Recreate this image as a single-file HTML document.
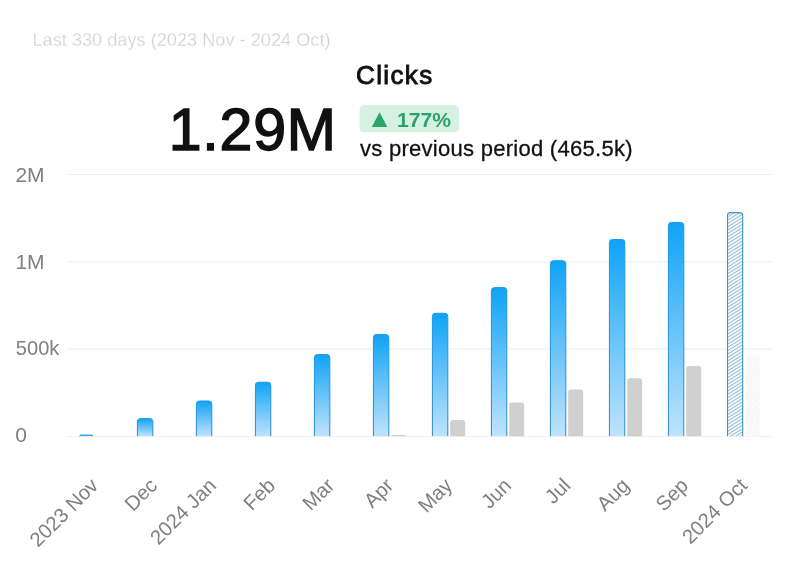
<!DOCTYPE html>
<html><head><meta charset="utf-8"><title>Clicks</title>
<style>
html,body{margin:0;padding:0;background:#fff;}
body{width:800px;height:583px;overflow:hidden;font-family:"Liberation Sans",sans-serif;}
svg{display:block}
text{font-family:"Liberation Sans",sans-serif;}
.xl{font-size:20.3px;fill:#808080;}
.yl{font-size:21px;fill:#808080;}
</style></head><body>
<svg width="800" height="583" viewBox="0 0 800 583">
<defs>
<linearGradient id="bg" x1="0" y1="0" x2="0" y2="1">
<stop offset="0" stop-color="#0fa3f6"/><stop offset="1" stop-color="#bfe3fd"/></linearGradient>
<linearGradient id="bs" x1="0" y1="0" x2="0" y2="1">
<stop offset="0" stop-color="#1b98ea"/><stop offset="1" stop-color="#2f89c3"/></linearGradient>
</defs>
<rect width="800" height="583" fill="#fff"/>
<text x="32.5" y="46" font-size="18.6" fill="#d0d0d0" stroke="#fff" stroke-width="0.3" textLength="298" lengthAdjust="spacingAndGlyphs">Last 330 days (2023 Nov - 2024 Oct)</text>
<text x="356" y="83.6" font-size="26" fill="#111" stroke="#111" stroke-width="0.9" textLength="76.2" lengthAdjust="spacing">Clicks</text>
<text x="168.7" y="150.3" font-size="59" fill="#111" stroke="#111" stroke-width="1.5" textLength="167.3" lengthAdjust="spacing">1.29M</text>
<rect x="359.6" y="105.2" width="99.4" height="27" rx="4.5" fill="#d6f0e2"/>
<text transform="translate(366.6,126.6) scale(1.2,1.15)" font-size="22" fill="#2aa469">▲</text>
<text x="397" y="126.5" font-size="20.5" font-weight="bold" fill="#2aa469" textLength="54" lengthAdjust="spacingAndGlyphs">177%</text>
<text x="360" y="156.4" font-size="22" fill="#111" stroke="#111" stroke-width="0.3" textLength="272.5" lengthAdjust="spacing">vs previous period (465.5k)</text>
<g stroke="#eeeeee" stroke-width="1">
<line x1="67" x2="772" y1="174.5" y2="174.5"/>
<line x1="67" x2="772" y1="261.95" y2="261.95"/>
<line x1="67" x2="772" y1="349.17" y2="349.17"/>
<line x1="67" x2="772" y1="436.6" y2="436.6" stroke="#f1f1f1"/>
</g>
<text class="yl" x="15.4" y="182">2M</text>
<text class="yl" x="15.4" y="269">1M</text>
<text class="yl" x="15.8" y="355.4" textLength="43.6" lengthAdjust="spacingAndGlyphs">500k</text>
<text class="yl" x="15.2" y="442.2">0</text>
<path d="M79.70,436.2V436.20Q79.70,435.10 80.80,435.10H91.60Q92.70,435.10 92.70,436.20V436.2" fill="url(#bg)" stroke="url(#bs)" stroke-width="1"/>
<text class="xl" text-anchor="end" transform="translate(99.4,486.7) rotate(-45)">2023 Nov</text>
<path d="M137.40,436.2V421.60Q137.40,418.60 140.40,418.60H149.80Q152.80,418.60 152.80,421.60V436.2" fill="url(#bg)" stroke="url(#bs)" stroke-width="1"/>
<text class="xl" text-anchor="end" transform="translate(158.4,486.7) rotate(-45)">Dec</text>
<path d="M196.40,436.2V404.00Q196.40,401.00 199.40,401.00H208.80Q211.80,401.00 211.80,404.00V436.2" fill="url(#bg)" stroke="url(#bs)" stroke-width="1"/>
<text class="xl" text-anchor="end" transform="translate(217.4,486.7) rotate(-45)">2024 Jan</text>
<path d="M255.40,436.2V385.25Q255.40,382.25 258.40,382.25H267.80Q270.80,382.25 270.80,385.25V436.2" fill="url(#bg)" stroke="url(#bs)" stroke-width="1"/>
<text class="xl" text-anchor="end" transform="translate(276.5,486.7) rotate(-45)">Feb</text>
<path d="M314.40,436.2V357.50Q314.40,354.50 317.40,354.50H326.80Q329.80,354.50 329.80,357.50V436.2" fill="url(#bg)" stroke="url(#bs)" stroke-width="1"/>
<text class="xl" text-anchor="end" transform="translate(335.5,486.7) rotate(-45)">Mar</text>
<path d="M373.40,436.2V337.50Q373.40,334.50 376.40,334.50H385.80Q388.80,334.50 388.80,337.50V436.2" fill="url(#bg)" stroke="url(#bs)" stroke-width="1"/>
<path d="M391.20,436.2V436.20Q391.20,435.00 392.40,435.00H405.00Q406.20,435.00 406.20,436.20V436.2" fill="#d0d0d0"/>
<text class="xl" text-anchor="end" transform="translate(394.5,486.7) rotate(-45)">Apr</text>
<path d="M432.40,436.2V316.25Q432.40,313.25 435.40,313.25H444.80Q447.80,313.25 447.80,316.25V436.2" fill="url(#bg)" stroke="url(#bs)" stroke-width="1"/>
<path d="M450.20,436.2V422.50Q450.20,420.00 452.70,420.00H462.70Q465.20,420.00 465.20,422.50V436.2" fill="#d0d0d0"/>
<text class="xl" text-anchor="end" transform="translate(453.5,486.7) rotate(-45)">May</text>
<path d="M491.40,436.2V290.60Q491.40,287.60 494.40,287.60H503.80Q506.80,287.60 506.80,290.60V436.2" fill="url(#bg)" stroke="url(#bs)" stroke-width="1"/>
<path d="M509.20,436.2V404.90Q509.20,402.40 511.70,402.40H521.70Q524.20,402.40 524.20,404.90V436.2" fill="#d0d0d0"/>
<text class="xl" text-anchor="end" transform="translate(512.5,486.7) rotate(-45)">Jun</text>
<path d="M550.40,436.2V263.70Q550.40,260.70 553.40,260.70H562.80Q565.80,260.70 565.80,263.70V436.2" fill="url(#bg)" stroke="url(#bs)" stroke-width="1"/>
<path d="M568.20,436.2V392.10Q568.20,389.60 570.70,389.60H580.70Q583.20,389.60 583.20,392.10V436.2" fill="#d0d0d0"/>
<text class="xl" text-anchor="end" transform="translate(571.6,486.7) rotate(-45)">Jul</text>
<path d="M609.40,436.2V242.50Q609.40,239.50 612.40,239.50H621.80Q624.80,239.50 624.80,242.50V436.2" fill="url(#bg)" stroke="url(#bs)" stroke-width="1"/>
<path d="M627.20,436.2V380.80Q627.20,378.30 629.70,378.30H639.70Q642.20,378.30 642.20,380.80V436.2" fill="#d0d0d0"/>
<text class="xl" text-anchor="end" transform="translate(630.6,486.7) rotate(-45)">Aug</text>
<path d="M668.40,436.2V225.50Q668.40,222.50 671.40,222.50H680.80Q683.80,222.50 683.80,225.50V436.2" fill="url(#bg)" stroke="url(#bs)" stroke-width="1"/>
<path d="M686.20,436.2V368.60Q686.20,366.10 688.70,366.10H698.70Q701.20,366.10 701.20,368.60V436.2" fill="#d0d0d0"/>
<text class="xl" text-anchor="end" transform="translate(689.6,486.7) rotate(-45)">Sep</text>
<clipPath id="cb"><path d="M727.50,436.2V215.60Q727.50,212.60 730.50,212.60H739.70Q742.70,212.60 742.70,215.60V436.2"/></clipPath>
<path d="M727.50,436.2V215.60Q727.50,212.60 730.50,212.60H739.70Q742.70,212.60 742.70,215.60V436.2" fill="#eef8fd"/>
<g clip-path="url(#cb)" stroke="#527f9b" stroke-width="0.55"><line x1="726.40" y1="210.87" x2="743.80" y2="200.00"/><line x1="726.40" y1="214.22" x2="743.80" y2="203.35"/><line x1="726.40" y1="217.57" x2="743.80" y2="206.70"/><line x1="726.40" y1="220.92" x2="743.80" y2="210.05"/><line x1="726.40" y1="224.27" x2="743.80" y2="213.40"/><line x1="726.40" y1="227.62" x2="743.80" y2="216.75"/><line x1="726.40" y1="230.97" x2="743.80" y2="220.10"/><line x1="726.40" y1="234.32" x2="743.80" y2="223.45"/><line x1="726.40" y1="237.67" x2="743.80" y2="226.80"/><line x1="726.40" y1="241.02" x2="743.80" y2="230.15"/><line x1="726.40" y1="244.37" x2="743.80" y2="233.50"/><line x1="726.40" y1="247.72" x2="743.80" y2="236.85"/><line x1="726.40" y1="251.07" x2="743.80" y2="240.20"/><line x1="726.40" y1="254.42" x2="743.80" y2="243.55"/><line x1="726.40" y1="257.77" x2="743.80" y2="246.90"/><line x1="726.40" y1="261.12" x2="743.80" y2="250.25"/><line x1="726.40" y1="264.47" x2="743.80" y2="253.60"/><line x1="726.40" y1="267.82" x2="743.80" y2="256.95"/><line x1="726.40" y1="271.17" x2="743.80" y2="260.30"/><line x1="726.40" y1="274.52" x2="743.80" y2="263.65"/><line x1="726.40" y1="277.87" x2="743.80" y2="267.00"/><line x1="726.40" y1="281.22" x2="743.80" y2="270.35"/><line x1="726.40" y1="284.57" x2="743.80" y2="273.70"/><line x1="726.40" y1="287.92" x2="743.80" y2="277.05"/><line x1="726.40" y1="291.27" x2="743.80" y2="280.40"/><line x1="726.40" y1="294.62" x2="743.80" y2="283.75"/><line x1="726.40" y1="297.97" x2="743.80" y2="287.10"/><line x1="726.40" y1="301.32" x2="743.80" y2="290.45"/><line x1="726.40" y1="304.67" x2="743.80" y2="293.80"/><line x1="726.40" y1="308.02" x2="743.80" y2="297.15"/><line x1="726.40" y1="311.37" x2="743.80" y2="300.50"/><line x1="726.40" y1="314.72" x2="743.80" y2="303.85"/><line x1="726.40" y1="318.07" x2="743.80" y2="307.20"/><line x1="726.40" y1="321.42" x2="743.80" y2="310.55"/><line x1="726.40" y1="324.77" x2="743.80" y2="313.90"/><line x1="726.40" y1="328.12" x2="743.80" y2="317.25"/><line x1="726.40" y1="331.47" x2="743.80" y2="320.60"/><line x1="726.40" y1="334.82" x2="743.80" y2="323.95"/><line x1="726.40" y1="338.17" x2="743.80" y2="327.30"/><line x1="726.40" y1="341.52" x2="743.80" y2="330.65"/><line x1="726.40" y1="344.87" x2="743.80" y2="334.00"/><line x1="726.40" y1="348.22" x2="743.80" y2="337.35"/><line x1="726.40" y1="351.57" x2="743.80" y2="340.70"/><line x1="726.40" y1="354.92" x2="743.80" y2="344.05"/><line x1="726.40" y1="358.27" x2="743.80" y2="347.40"/><line x1="726.40" y1="361.62" x2="743.80" y2="350.75"/><line x1="726.40" y1="364.97" x2="743.80" y2="354.10"/><line x1="726.40" y1="368.32" x2="743.80" y2="357.45"/><line x1="726.40" y1="371.67" x2="743.80" y2="360.80"/><line x1="726.40" y1="375.02" x2="743.80" y2="364.15"/><line x1="726.40" y1="378.37" x2="743.80" y2="367.50"/><line x1="726.40" y1="381.72" x2="743.80" y2="370.85"/><line x1="726.40" y1="385.07" x2="743.80" y2="374.20"/><line x1="726.40" y1="388.42" x2="743.80" y2="377.55"/><line x1="726.40" y1="391.77" x2="743.80" y2="380.90"/><line x1="726.40" y1="395.12" x2="743.80" y2="384.25"/><line x1="726.40" y1="398.47" x2="743.80" y2="387.60"/><line x1="726.40" y1="401.82" x2="743.80" y2="390.95"/><line x1="726.40" y1="405.17" x2="743.80" y2="394.30"/><line x1="726.40" y1="408.52" x2="743.80" y2="397.65"/><line x1="726.40" y1="411.87" x2="743.80" y2="401.00"/><line x1="726.40" y1="415.22" x2="743.80" y2="404.35"/><line x1="726.40" y1="418.57" x2="743.80" y2="407.70"/><line x1="726.40" y1="421.92" x2="743.80" y2="411.05"/><line x1="726.40" y1="425.27" x2="743.80" y2="414.40"/><line x1="726.40" y1="428.62" x2="743.80" y2="417.75"/><line x1="726.40" y1="431.97" x2="743.80" y2="421.10"/><line x1="726.40" y1="435.32" x2="743.80" y2="424.45"/><line x1="726.40" y1="438.67" x2="743.80" y2="427.80"/><line x1="726.40" y1="442.02" x2="743.80" y2="431.15"/><line x1="726.40" y1="445.37" x2="743.80" y2="434.50"/><line x1="726.40" y1="448.72" x2="743.80" y2="437.85"/><line x1="726.40" y1="452.07" x2="743.80" y2="441.20"/><line x1="726.40" y1="455.42" x2="743.80" y2="444.55"/><line x1="726.40" y1="458.77" x2="743.80" y2="447.90"/></g>
<path d="M727.50,436.2V215.60Q727.50,212.60 730.50,212.60H739.70Q742.70,212.60 742.70,215.60V436.2" fill="none" stroke="#3a94c8" stroke-width="1.1"/>
<clipPath id="cg"><path d="M746.20,436.2V358.70Q746.20,356.20 748.70,356.20H757.20Q759.70,356.20 759.70,358.70V436.2"/></clipPath>
<path d="M746.20,436.2V358.70Q746.20,356.20 748.70,356.20H757.20Q759.70,356.20 759.70,358.70V436.2" fill="#fcfcfc"/>
<g clip-path="url(#cg)" stroke="#e9e9e9" stroke-width="0.6"><line x1="745.20" y1="353.89" x2="760.70" y2="344.20"/><line x1="745.20" y1="357.24" x2="760.70" y2="347.55"/><line x1="745.20" y1="360.59" x2="760.70" y2="350.90"/><line x1="745.20" y1="363.94" x2="760.70" y2="354.25"/><line x1="745.20" y1="367.29" x2="760.70" y2="357.60"/><line x1="745.20" y1="370.64" x2="760.70" y2="360.95"/><line x1="745.20" y1="373.99" x2="760.70" y2="364.30"/><line x1="745.20" y1="377.34" x2="760.70" y2="367.65"/><line x1="745.20" y1="380.69" x2="760.70" y2="371.00"/><line x1="745.20" y1="384.04" x2="760.70" y2="374.35"/><line x1="745.20" y1="387.39" x2="760.70" y2="377.70"/><line x1="745.20" y1="390.74" x2="760.70" y2="381.05"/><line x1="745.20" y1="394.09" x2="760.70" y2="384.40"/><line x1="745.20" y1="397.44" x2="760.70" y2="387.75"/><line x1="745.20" y1="400.79" x2="760.70" y2="391.10"/><line x1="745.20" y1="404.14" x2="760.70" y2="394.45"/><line x1="745.20" y1="407.49" x2="760.70" y2="397.80"/><line x1="745.20" y1="410.84" x2="760.70" y2="401.15"/><line x1="745.20" y1="414.19" x2="760.70" y2="404.50"/><line x1="745.20" y1="417.54" x2="760.70" y2="407.85"/><line x1="745.20" y1="420.89" x2="760.70" y2="411.20"/><line x1="745.20" y1="424.24" x2="760.70" y2="414.55"/><line x1="745.20" y1="427.59" x2="760.70" y2="417.90"/><line x1="745.20" y1="430.94" x2="760.70" y2="421.25"/><line x1="745.20" y1="434.29" x2="760.70" y2="424.60"/><line x1="745.20" y1="437.64" x2="760.70" y2="427.95"/><line x1="745.20" y1="440.99" x2="760.70" y2="431.30"/><line x1="745.20" y1="444.34" x2="760.70" y2="434.65"/><line x1="745.20" y1="447.69" x2="760.70" y2="438.00"/><line x1="745.20" y1="451.04" x2="760.70" y2="441.35"/><line x1="745.20" y1="454.39" x2="760.70" y2="444.70"/><line x1="745.20" y1="457.74" x2="760.70" y2="448.05"/></g>
<text class="xl" text-anchor="end" transform="translate(748.6,486.7) rotate(-45)">2024 Oct</text>
</svg>
</body></html>
